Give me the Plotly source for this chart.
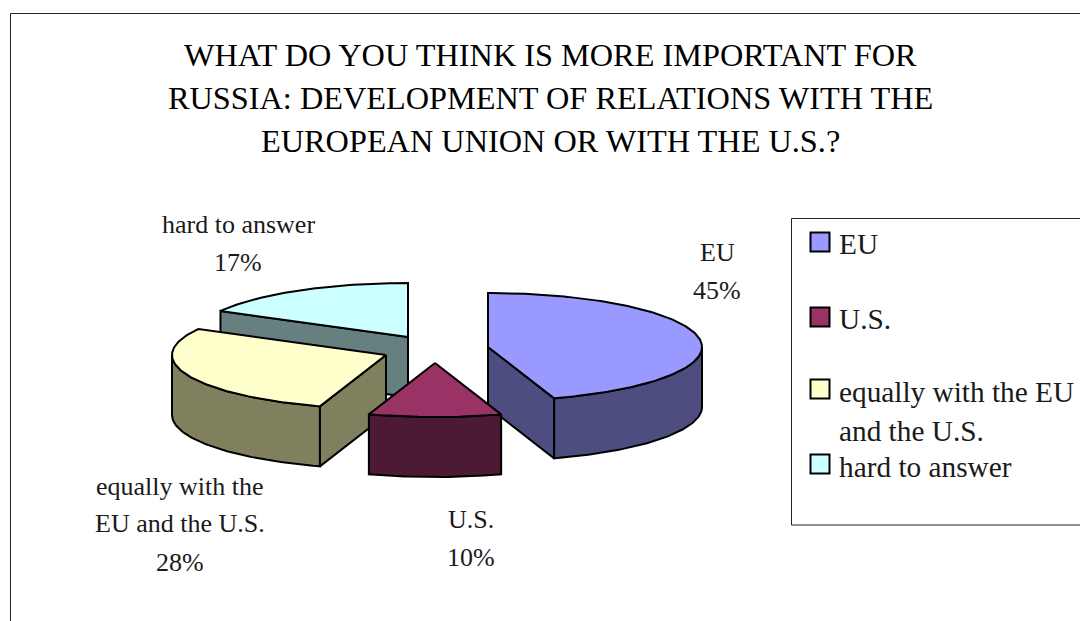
import math
import plotly.graph_objects as go

# Survey shares, in percent
categories = ["EU", "U.S.", "equally with the EU and the U.S.", "hard to answer"]
shares = [45, 10, 28, 17]
title_lines = [
    "WHAT DO YOU THINK IS MORE IMPORTANT FOR",
    "RUSSIA: DEVELOPMENT OF RELATIONS WITH THE",
    "EUROPEAN UNION OR WITH THE U.S.?",
]

# Styling of each slice: top colour, side colour
top_colors = ["#9999FF", "#993366", "#FFFFCC", "#CCFFFF"]
side_colors = ["#4D4D80", "#4D1A33", "#80805F", "#668080"]

# Pulled-out slice centres on the page and the pie's projection
centers = [(488, 347), (435, 363), (386, 355), (408, 337)]
RX, RY, DEPTH = 214, 54, 60
FONT = "Liberation Serif"
INK = "#1a1a1a"


def rim(cx, cy, a0, a1, dy=0):
    """Points along the ellipse, clockwise from a0 to a1 (degrees from 12 o'clock)."""
    n = max(2, int(abs(a1 - a0)) + 1)
    pts = []
    for i in range(n + 1):
        a = math.radians(a0 + (a1 - a0) * i / n)
        pts.append((cx + RX * math.sin(a), cy - RY * math.cos(a) + dy))
    return pts


fig = go.Figure()


def face(pts, color):
    xs = [p[0] for p in pts] + [pts[0][0]]
    ys = [p[1] for p in pts] + [pts[0][1]]
    fig.add_trace(go.Scatter(
        x=xs, y=ys, mode="lines", fill="toself", fillcolor=color,
        line=dict(color="#000000", width=2), hoverinfo="skip", showlegend=False,
    ))


# Turn the shares into start and end angles
spans = []
acc = 0.0
for s in shares:
    spans.append((acc, acc + s * 3.6))
    acc += s * 3.6

# Back slices first, so nearer ones overlap them
for idx in [3, 2, 0, 1]:
    a0, a1 = spans[idx]
    cx, cy = centers[idx]
    # Cut faces turned towards the viewer
    for ang, visible in ((a0, -math.sin(math.radians(a0)) > 1e-6),
                         (a1, math.sin(math.radians(a1)) > 1e-6)):
        if visible:
            edge = rim(cx, cy, ang, ang)[0]
            face([(cx, cy), edge, (edge[0], edge[1] + DEPTH), (cx, cy + DEPTH)],
                 side_colors[idx])
    # Outer wall on the near half of the ellipse
    lo, hi = max(a0, 90), min(a1, 270)
    if hi > lo:
        top = rim(cx, cy, lo, hi)
        bottom = rim(cx, cy, hi, lo, DEPTH)
        face(top + bottom, side_colors[idx])
    # Top surface
    face([(cx, cy)] + rim(cx, cy, a0, a1), top_colors[idx])

annotations = []


def text(x, y, s, size, anchor="center", color=INK):
    annotations.append(dict(
        x=x, y=y, xref="x", yref="y", text=s, showarrow=False,
        xanchor=anchor, yanchor="middle",
        font=dict(family=FONT, size=size, color=color),
    ))


for line, y in zip(title_lines, (55, 98, 141)):
    text(550.5, y, line, 32.3, color="#000000")

# Slice labels: name lines followed by the share
label_rows = [
    (717, [(252, categories[0])], 290),
    (471, [(519, categories[1])], 557),
    (180, [(486, "equally with the"), (523, "EU and the U.S.")], 562),
    (238, [(224, categories[3])], 262),
]
for (x, rows, pct_y), share in zip(label_rows, shares):
    for y, s in rows:
        text(x, y, s, 26)
    text(x, pct_y, f"{share}%", 26)

# Legend entries
legend_y = [242, 317, 389, 464]
fig.add_trace(go.Scatter(
    x=[820] * 4, y=legend_y, mode="markers", hoverinfo="skip", showlegend=False,
    marker=dict(symbol="square", size=19, color=top_colors,
                line=dict(color="#000000", width=2)),
))
LEGEND_X = 837
text(LEGEND_X, 244, categories[0], 29.3, "left")
text(LEGEND_X, 319, categories[1], 29.3, "left")
text(LEGEND_X, 392, "equally with the EU", 29.3, "left")
text(LEGEND_X, 431, "and the U.S.", 29.3, "left")
text(LEGEND_X, 467, categories[3], 29.3, "left")

frame = dict(color="#222222", width=1)
shapes = [
    dict(type="line", xref="x", yref="y", x0=10.5, y0=13.5, x1=1080, y1=13.5, line=frame),
    dict(type="line", xref="x", yref="y", x0=10.5, y0=13.5, x1=10.5, y1=621, line=frame),
    dict(type="rect", xref="x", yref="y", x0=791.5, y0=218.5, x1=1090, y1=525, line=frame),
]

fig.update_layout(
    width=1080, height=621, autosize=False,
    margin=dict(l=0, r=0, t=0, b=0),
    paper_bgcolor="#FFFFFF", plot_bgcolor="#FFFFFF",
    xaxis=dict(range=[0, 1080], visible=False, fixedrange=True),
    yaxis=dict(range=[621, 0], visible=False, fixedrange=True),
    annotations=annotations, shapes=shapes,
)
fig.write_html("out.html", config=dict(displayModeBar=False))
